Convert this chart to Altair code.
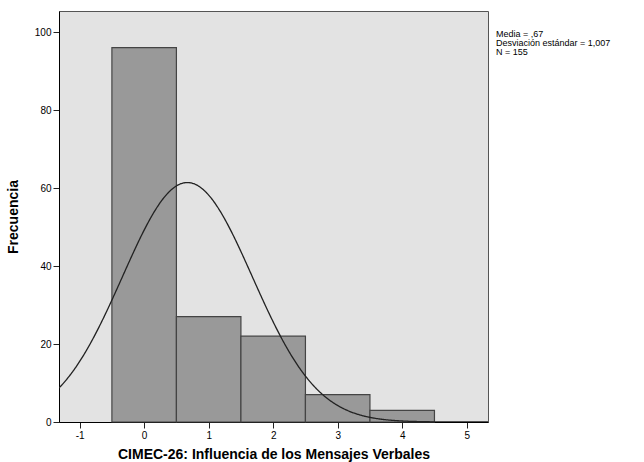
import altair as alt
import pandas as pd

# Data
bin_start = [-0.5, 0.5, 1.5, 2.5, 3.5]
bin_end = [0.5, 1.5, 2.5, 3.5, 4.5]
counts = [96, 27, 22, 7, 3]

# Stated statistics (used for the fitted normal curve)
mean = 0.67
sd = 1.007
n = 155
bin_width = 1.0

stats_lines = ["Media = ,67", "Desviación estándar = 1,007", "N = 155"]

x_ticks = [-1, 0, 1, 2, 3, 4, 5]
y_ticks = [0, 20, 40, 60, 80, 100]

FONT = "Liberation Sans"
XDOM = [-1.32, 5.33]
YDOM = [0, 105.4]

bars_df = pd.DataFrame({"start": bin_start, "end": bin_end, "count": counts, "base": [0] * len(counts)})

xscale = alt.Scale(domain=XDOM, nice=False, zero=False)
yscale = alt.Scale(domain=YDOM, nice=False, zero=True)

xaxis = alt.Axis(values=x_ticks, title="CIMEC-26: Influencia de los Mensajes Verbales",
                 grid=False, domainColor="black", tickColor="#222", tickSize=6,
                 labelFont=FONT, labelFontSize=10, labelColor="black", labelPadding=2,
                 titleFont=FONT, titleFontSize=14, titleFontWeight="bold", titleColor="black",
                 titlePadding=7, labelExpr="'' + datum.value")
yaxis = alt.Axis(values=y_ticks, title="Frecuencia", grid=False, domainColor="black",
                 tickColor="#222", tickSize=6, labelFont=FONT, labelFontSize=10,
                 labelColor="black", labelPadding=2, titleFont=FONT, titleFontSize=14,
                 titleFontWeight="bold", titleColor="black", titlePadding=14,
                 labelExpr="'' + datum.value")

bars = alt.Chart(bars_df).mark_rect(fill="#999999", stroke="#444444", strokeWidth=1.2).encode(
    x=alt.X("start:Q", scale=xscale, axis=xaxis),
    x2="end:Q",
    y=alt.Y("count:Q", scale=yscale, axis=yaxis),
    y2="base:Q",
)

peak = n * bin_width / (sd * (2 * 3.141592653589793) ** 0.5)
curve = alt.Chart(alt.sequence(XDOM[0], XDOM[1] + 0.001, 0.01, as_="xv")).transform_calculate(
    yv=f"{peak} * exp(-pow((datum.xv - {mean}) / {sd}, 2) / 2)"
).mark_line(color="#222222", strokeWidth=1.3, clip=True).encode(
    x=alt.X("xv:Q", scale=xscale),
    y=alt.Y("yv:Q", scale=yscale),
)

stats_df = pd.DataFrame({"t": ["\n".join(stats_lines)]})
stats = alt.Chart(stats_df).mark_text(align="left", baseline="top", font=FONT,
                                      fontSize=9, lineHeight=9, lineBreak="\n",
                                      color="black").encode(
    x=alt.value(437),
    y=alt.value(19),
    text="t:N",
)

chart = alt.layer(bars, curve, stats).properties(
    width=429, height=411,
    autosize=alt.AutoSizeParams(type="none"),
    padding={"left": 59, "top": 11, "right": 156, "bottom": 40},
    background="white",
).configure_view(fill="#e3e3e3", stroke="#555555", strokeWidth=1)

chart.save("out.html", embed_options={"renderer": "svg", "actions": False})
